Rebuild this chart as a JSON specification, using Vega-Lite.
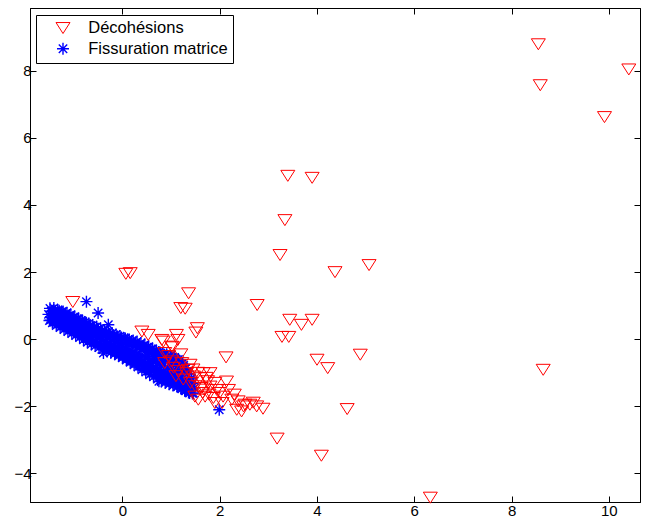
{
"$schema":"https://vega.github.io/schema/vega-lite/v6.json",
"width":610,"height":494,"autosize":{"type":"none"},
"padding":{"left":30,"top":8,"right":6,"bottom":22},
"background":"white",
"config":{"view":{"stroke":"black","strokeWidth":1},
"axis":{"grid":false,"domainColor":"black","tickColor":"black","labelColor":"black","labelFont":"Liberation Sans","labelFontSize":15,"tickSize":-6,"labelPadding":5,"domainWidth":1,"tickWidth":1,"title":null},
"legend":{"orient":"none","legendX":6,"legendY":7,"strokeColor":"black","fillColor":"white","padding":4.75,"labelFont":"Liberation Sans","labelFontSize":16.5,"labelColor":"black","symbolStrokeWidth":1,"symbolSize":196,"rowPadding":2.8,"labelOffset":17,"symbolOffset":14,"title":null}},
"data":{"values":[
{"x":-1.50,"y":0.56,"t":"F"},{"x":-1.47,"y":0.65,"t":"F"},{"x":-1.52,"y":0.74,"t":"F"},{"x":-1.46,"y":0.83,"t":"F"},{"x":-1.49,"y":0.92,"t":"F"},
{"x":-1.42,"y":0.57,"t":"F"},{"x":-1.39,"y":0.66,"t":"F"},{"x":-1.44,"y":0.75,"t":"F"},{"x":-1.38,"y":0.84,"t":"F"},{"x":-1.41,"y":0.93,"t":"F"},
{"x":-1.34,"y":0.51,"t":"F"},{"x":-1.31,"y":0.60,"t":"F"},{"x":-1.36,"y":0.69,"t":"F"},{"x":-1.30,"y":0.78,"t":"F"},{"x":-1.33,"y":0.87,"t":"F"},
{"x":-1.26,"y":0.46,"t":"F"},{"x":-1.23,"y":0.55,"t":"F"},{"x":-1.28,"y":0.64,"t":"F"},{"x":-1.22,"y":0.73,"t":"F"},{"x":-1.25,"y":0.82,"t":"F"},
{"x":-1.18,"y":0.40,"t":"F"},{"x":-1.15,"y":0.49,"t":"F"},{"x":-1.20,"y":0.58,"t":"F"},{"x":-1.14,"y":0.67,"t":"F"},{"x":-1.17,"y":0.76,"t":"F"},
{"x":-1.10,"y":0.35,"t":"F"},{"x":-1.07,"y":0.44,"t":"F"},{"x":-1.12,"y":0.53,"t":"F"},{"x":-1.06,"y":0.62,"t":"F"},{"x":-1.09,"y":0.71,"t":"F"},
{"x":-1.02,"y":0.29,"t":"F"},{"x":-0.99,"y":0.38,"t":"F"},{"x":-1.04,"y":0.47,"t":"F"},{"x":-0.98,"y":0.56,"t":"F"},{"x":-1.01,"y":0.65,"t":"F"},
{"x":-0.94,"y":0.23,"t":"F"},{"x":-0.91,"y":0.33,"t":"F"},{"x":-0.96,"y":0.42,"t":"F"},{"x":-0.90,"y":0.51,"t":"F"},{"x":-0.93,"y":0.61,"t":"F"},
{"x":-0.86,"y":0.16,"t":"F"},{"x":-0.83,"y":0.26,"t":"F"},{"x":-0.88,"y":0.36,"t":"F"},{"x":-0.82,"y":0.46,"t":"F"},{"x":-0.85,"y":0.56,"t":"F"},
{"x":-0.78,"y":0.11,"t":"F"},{"x":-0.75,"y":0.21,"t":"F"},{"x":-0.80,"y":0.31,"t":"F"},{"x":-0.74,"y":0.41,"t":"F"},{"x":-0.77,"y":0.51,"t":"F"},
{"x":-0.70,"y":0.05,"t":"F"},{"x":-0.67,"y":0.16,"t":"F"},{"x":-0.72,"y":0.26,"t":"F"},{"x":-0.66,"y":0.36,"t":"F"},{"x":-0.69,"y":0.47,"t":"F"},
{"x":-0.62,"y":-0.02,"t":"F"},{"x":-0.59,"y":0.09,"t":"F"},{"x":-0.64,"y":0.20,"t":"F"},{"x":-0.58,"y":0.31,"t":"F"},{"x":-0.61,"y":0.42,"t":"F"},
{"x":-0.54,"y":-0.07,"t":"F"},{"x":-0.51,"y":0.04,"t":"F"},{"x":-0.56,"y":0.15,"t":"F"},{"x":-0.50,"y":0.26,"t":"F"},{"x":-0.53,"y":0.37,"t":"F"},
{"x":-0.46,"y":-0.14,"t":"F"},{"x":-0.43,"y":-0.02,"t":"F"},{"x":-0.48,"y":0.09,"t":"F"},{"x":-0.42,"y":0.20,"t":"F"},{"x":-0.45,"y":0.32,"t":"F"},
{"x":-0.38,"y":-0.19,"t":"F"},{"x":-0.35,"y":-0.08,"t":"F"},{"x":-0.40,"y":0.04,"t":"F"},{"x":-0.34,"y":0.16,"t":"F"},{"x":-0.37,"y":0.27,"t":"F"},
{"x":-0.30,"y":-0.26,"t":"F"},{"x":-0.27,"y":-0.14,"t":"F"},{"x":-0.32,"y":-0.02,"t":"F"},{"x":-0.26,"y":0.10,"t":"F"},{"x":-0.29,"y":0.22,"t":"F"},
{"x":-0.22,"y":-0.32,"t":"F"},{"x":-0.19,"y":-0.20,"t":"F"},{"x":-0.24,"y":-0.07,"t":"F"},{"x":-0.18,"y":0.06,"t":"F"},{"x":-0.21,"y":0.18,"t":"F"},
{"x":-0.14,"y":-0.38,"t":"F"},{"x":-0.11,"y":-0.25,"t":"F"},{"x":-0.16,"y":-0.12,"t":"F"},{"x":-0.10,"y":0.01,"t":"F"},{"x":-0.13,"y":0.14,"t":"F"},
{"x":-0.06,"y":-0.45,"t":"F"},{"x":-0.03,"y":-0.32,"t":"F"},{"x":-0.08,"y":-0.18,"t":"F"},{"x":-0.02,"y":-0.05,"t":"F"},{"x":-0.05,"y":0.09,"t":"F"},
{"x":0.02,"y":-0.50,"t":"F"},{"x":0.05,"y":-0.37,"t":"F"},{"x":0.00,"y":-0.23,"t":"F"},{"x":0.06,"y":-0.10,"t":"F"},{"x":0.03,"y":0.04,"t":"F"},
{"x":0.10,"y":-0.57,"t":"F"},{"x":0.13,"y":-0.43,"t":"F"},{"x":0.08,"y":-0.29,"t":"F"},{"x":0.14,"y":-0.15,"t":"F"},{"x":0.11,"y":-0.01,"t":"F"},
{"x":0.18,"y":-0.63,"t":"F"},{"x":0.21,"y":-0.48,"t":"F"},{"x":0.16,"y":-0.34,"t":"F"},{"x":0.22,"y":-0.20,"t":"F"},{"x":0.19,"y":-0.05,"t":"F"},
{"x":0.26,"y":-0.70,"t":"F"},{"x":0.29,"y":-0.55,"t":"F"},{"x":0.24,"y":-0.40,"t":"F"},{"x":0.30,"y":-0.25,"t":"F"},{"x":0.27,"y":-0.10,"t":"F"},
{"x":0.34,"y":-0.75,"t":"F"},{"x":0.37,"y":-0.60,"t":"F"},{"x":0.32,"y":-0.45,"t":"F"},{"x":0.38,"y":-0.30,"t":"F"},{"x":0.35,"y":-0.15,"t":"F"},
{"x":0.42,"y":-0.82,"t":"F"},{"x":0.45,"y":-0.66,"t":"F"},{"x":0.40,"y":-0.51,"t":"F"},{"x":0.46,"y":-0.36,"t":"F"},{"x":0.43,"y":-0.20,"t":"F"},
{"x":0.50,"y":-0.88,"t":"F"},{"x":0.53,"y":-0.72,"t":"F"},{"x":0.48,"y":-0.56,"t":"F"},{"x":0.54,"y":-0.40,"t":"F"},{"x":0.51,"y":-0.24,"t":"F"},
{"x":0.58,"y":-0.93,"t":"F"},{"x":0.61,"y":-0.77,"t":"F"},{"x":0.56,"y":-0.61,"t":"F"},{"x":0.62,"y":-0.45,"t":"F"},{"x":0.59,"y":-0.29,"t":"F"},
{"x":0.66,"y":-1.00,"t":"F"},{"x":0.69,"y":-0.84,"t":"F"},{"x":0.64,"y":-0.67,"t":"F"},{"x":0.70,"y":-0.50,"t":"F"},{"x":0.67,"y":-0.34,"t":"F"},
{"x":0.74,"y":-1.06,"t":"F"},{"x":0.77,"y":-0.89,"t":"F"},{"x":0.72,"y":-0.72,"t":"F"},{"x":0.78,"y":-0.55,"t":"F"},{"x":0.75,"y":-0.38,"t":"F"},
{"x":0.82,"y":-1.14,"t":"F"},{"x":0.85,"y":-0.96,"t":"F"},{"x":0.80,"y":-0.78,"t":"F"},{"x":0.86,"y":-0.60,"t":"F"},{"x":0.83,"y":-0.42,"t":"F"},
{"x":0.90,"y":-1.21,"t":"F"},{"x":0.93,"y":-1.02,"t":"F"},{"x":0.88,"y":-0.83,"t":"F"},{"x":0.94,"y":-0.64,"t":"F"},{"x":0.91,"y":-0.45,"t":"F"},
{"x":0.98,"y":-1.29,"t":"F"},{"x":1.01,"y":-1.09,"t":"F"},{"x":0.96,"y":-0.89,"t":"F"},{"x":1.02,"y":-0.69,"t":"F"},{"x":0.99,"y":-0.49,"t":"F"},
{"x":1.06,"y":-1.35,"t":"F"},{"x":1.09,"y":-1.14,"t":"F"},{"x":1.04,"y":-0.94,"t":"F"},{"x":1.10,"y":-0.74,"t":"F"},{"x":1.07,"y":-0.54,"t":"F"},
{"x":1.14,"y":-1.41,"t":"F"},{"x":1.17,"y":-1.20,"t":"F"},{"x":1.12,"y":-1.00,"t":"F"},{"x":1.18,"y":-0.80,"t":"F"},{"x":1.15,"y":-0.60,"t":"F"},
{"x":1.22,"y":-1.48,"t":"F"},{"x":1.25,"y":-1.29,"t":"F"},{"x":1.20,"y":-1.10,"t":"F"},{"x":1.26,"y":-0.91,"t":"F"},{"x":1.23,"y":-0.72,"t":"F"},
{"x":1.30,"y":-1.54,"t":"F"},{"x":1.33,"y":-1.37,"t":"F"},{"x":1.28,"y":-1.20,"t":"F"},{"x":1.34,"y":-1.03,"t":"F"},{"x":1.31,"y":-0.86,"t":"F"},
{"x":1.38,"y":-1.60,"t":"F"},{"x":1.41,"y":-1.45,"t":"F"},{"x":1.36,"y":-1.30,"t":"F"},{"x":1.42,"y":-1.15,"t":"F"},
{"x":1.46,"y":-1.60,"t":"F"},{"x":1.48,"y":-1.45,"t":"F"},{"x":1.44,"y":-1.32,"t":"F"},
{"x":0.54,"y":-0.82,"t":"F"},{"x":0.55,"y":-0.67,"t":"F"},{"x":0.53,"y":-0.51,"t":"F"},{"x":0.56,"y":-0.36,"t":"F"},
{"x":0.70,"y":-0.95,"t":"F"},{"x":0.71,"y":-0.78,"t":"F"},{"x":0.69,"y":-0.62,"t":"F"},{"x":0.72,"y":-0.45,"t":"F"},
{"x":0.86,"y":-1.08,"t":"F"},{"x":0.87,"y":-0.89,"t":"F"},{"x":0.85,"y":-0.71,"t":"F"},{"x":0.88,"y":-0.53,"t":"F"},
{"x":1.02,"y":-1.21,"t":"F"},{"x":1.03,"y":-1.01,"t":"F"},{"x":1.01,"y":-0.81,"t":"F"},{"x":1.04,"y":-0.61,"t":"F"},
{"x":1.18,"y":-1.34,"t":"F"},{"x":1.19,"y":-1.15,"t":"F"},{"x":1.17,"y":-0.95,"t":"F"},{"x":1.20,"y":-0.76,"t":"F"},
{"x":-1.46,"y":0.83,"t":"F"},{"x":-1.44,"y":0.49,"t":"F"},{"x":-1.48,"y":0.57,"t":"F"},
{"x":-1.38,"y":0.85,"t":"F"},{"x":-1.36,"y":0.41,"t":"F"},{"x":-1.40,"y":0.51,"t":"F"},
{"x":-1.30,"y":0.85,"t":"F"},{"x":-1.28,"y":0.35,"t":"F"},{"x":-1.32,"y":0.46,"t":"F"},
{"x":-1.22,"y":0.83,"t":"F"},{"x":-1.20,"y":0.29,"t":"F"},{"x":-1.24,"y":0.41,"t":"F"},
{"x":-1.14,"y":0.79,"t":"F"},{"x":-1.12,"y":0.23,"t":"F"},{"x":-1.16,"y":0.36,"t":"F"},
{"x":-1.06,"y":0.73,"t":"F"},{"x":-1.04,"y":0.17,"t":"F"},{"x":-1.08,"y":0.30,"t":"F"},
{"x":-0.98,"y":0.67,"t":"F"},{"x":-0.96,"y":0.11,"t":"F"},{"x":-1.00,"y":0.24,"t":"F"},
{"x":-0.90,"y":0.61,"t":"F"},{"x":-0.88,"y":0.05,"t":"F"},{"x":-0.92,"y":0.18,"t":"F"},
{"x":-0.82,"y":0.54,"t":"F"},{"x":-0.80,"y":-0.02,"t":"F"},{"x":-0.84,"y":0.11,"t":"F"},
{"x":-0.74,"y":0.47,"t":"F"},{"x":-0.72,"y":-0.09,"t":"F"},{"x":-0.76,"y":0.04,"t":"F"},
{"x":-0.66,"y":0.41,"t":"F"},{"x":-0.64,"y":-0.15,"t":"F"},{"x":-0.68,"y":-0.02,"t":"F"},
{"x":-0.58,"y":0.36,"t":"F"},{"x":-0.56,"y":-0.20,"t":"F"},{"x":-0.60,"y":-0.07,"t":"F"},
{"x":-0.50,"y":0.31,"t":"F"},{"x":-0.48,"y":-0.25,"t":"F"},{"x":-0.52,"y":-0.12,"t":"F"},
{"x":-0.42,"y":0.25,"t":"F"},{"x":-0.40,"y":-0.31,"t":"F"},{"x":-0.44,"y":-0.18,"t":"F"},
{"x":-0.34,"y":0.20,"t":"F"},{"x":-0.32,"y":-0.36,"t":"F"},{"x":-0.36,"y":-0.23,"t":"F"},
{"x":-0.26,"y":0.16,"t":"F"},{"x":-0.24,"y":-0.40,"t":"F"},{"x":-0.28,"y":-0.27,"t":"F"},
{"x":-0.18,"y":0.12,"t":"F"},{"x":-0.16,"y":-0.44,"t":"F"},{"x":-0.20,"y":-0.31,"t":"F"},
{"x":-0.10,"y":0.08,"t":"F"},{"x":-0.08,"y":-0.50,"t":"F"},{"x":-0.12,"y":-0.37,"t":"F"},
{"x":-0.02,"y":0.05,"t":"F"},{"x":0.00,"y":-0.55,"t":"F"},{"x":-0.04,"y":-0.42,"t":"F"},
{"x":0.06,"y":0.02,"t":"F"},{"x":0.08,"y":-0.62,"t":"F"},{"x":0.04,"y":-0.48,"t":"F"},
{"x":0.14,"y":-0.01,"t":"F"},{"x":0.16,"y":-0.69,"t":"F"},{"x":0.12,"y":-0.54,"t":"F"},
{"x":0.22,"y":-0.04,"t":"F"},{"x":0.24,"y":-0.76,"t":"F"},{"x":0.20,"y":-0.60,"t":"F"},
{"x":0.30,"y":-0.07,"t":"F"},{"x":0.32,"y":-0.83,"t":"F"},{"x":0.28,"y":-0.66,"t":"F"},
{"x":0.38,"y":-0.11,"t":"F"},{"x":0.40,"y":-0.91,"t":"F"},{"x":0.36,"y":-0.73,"t":"F"},
{"x":0.46,"y":-0.16,"t":"F"},{"x":0.48,"y":-0.98,"t":"F"},{"x":0.44,"y":-0.80,"t":"F"},
{"x":0.54,"y":-0.22,"t":"F"},{"x":0.56,"y":-1.06,"t":"F"},{"x":0.52,"y":-0.87,"t":"F"},
{"x":0.62,"y":-0.28,"t":"F"},{"x":0.64,"y":-1.12,"t":"F"},{"x":0.60,"y":-0.93,"t":"F"},
{"x":0.70,"y":-0.35,"t":"F"},{"x":0.72,"y":-1.19,"t":"F"},{"x":0.68,"y":-1.00,"t":"F"},
{"x":0.78,"y":-0.42,"t":"F"},{"x":0.80,"y":-1.26,"t":"F"},{"x":0.76,"y":-1.07,"t":"F"},
{"x":0.86,"y":-0.46,"t":"F"},{"x":0.88,"y":-1.30,"t":"F"},{"x":0.84,"y":-1.11,"t":"F"},
{"x":0.94,"y":-0.50,"t":"F"},{"x":0.96,"y":-1.34,"t":"F"},{"x":0.92,"y":-1.15,"t":"F"},
{"x":1.02,"y":-0.54,"t":"F"},{"x":1.04,"y":-1.38,"t":"F"},{"x":1.00,"y":-1.19,"t":"F"},
{"x":1.10,"y":-0.59,"t":"F"},{"x":1.12,"y":-1.41,"t":"F"},{"x":1.08,"y":-1.23,"t":"F"},
{"x":1.18,"y":-0.65,"t":"F"},{"x":1.20,"y":-1.45,"t":"F"},{"x":1.16,"y":-1.27,"t":"F"},
{"x":1.26,"y":-0.78,"t":"F"},{"x":1.28,"y":-1.52,"t":"F"},{"x":1.24,"y":-1.35,"t":"F"},
{"x":1.34,"y":-0.95,"t":"F"},{"x":1.36,"y":-1.59,"t":"F"},{"x":1.32,"y":-1.45,"t":"F"},
{"x":1.42,"y":-1.18,"t":"F"},{"x":1.44,"y":-1.62,"t":"F"},{"x":1.40,"y":-1.52,"t":"F"},
{"x":-0.74,"y":1.12,"t":"F"},{"x":-0.50,"y":0.78,"t":"F"},{"x":-0.29,"y":0.43,"t":"F"},{"x":-0.39,"y":-0.41,"t":"F"},{"x":1.11,"y":-0.86,"t":"F"},{"x":1.99,"y":-2.10,"t":"F"},{"x":0.75,"y":-1.25,"t":"F"},
{"x":8.55,"y":8.79,"t":"D"},{"x":10.41,"y":8.04,"t":"D"},{"x":8.59,"y":7.57,"t":"D"},{"x":9.91,"y":6.62,"t":"D"},{"x":8.65,"y":-0.91,"t":"D"},{"x":6.33,"y":-4.72,"t":"D"},
{"x":3.40,"y":4.87,"t":"D"},{"x":3.90,"y":4.81,"t":"D"},{"x":3.34,"y":3.55,"t":"D"},{"x":3.24,"y":2.51,"t":"D"},{"x":4.37,"y":2.0,"t":"D"},{"x":5.07,"y":2.21,"t":"D"},{"x":2.77,"y":1.02,"t":"D"},{"x":3.44,"y":0.58,"t":"D"},{"x":3.68,"y":0.43,"t":"D"},{"x":3.90,"y":0.58,"t":"D"},{"x":3.28,"y":0.07,"t":"D"},{"x":3.42,"y":0.07,"t":"D"},{"x":4.00,"y":-0.61,"t":"D"},{"x":4.22,"y":-0.86,"t":"D"},{"x":4.89,"y":-0.46,"t":"D"},{"x":4.62,"y":-2.08,"t":"D"},{"x":3.18,"y":-2.96,"t":"D"},{"x":4.09,"y":-3.47,"t":"D"},
{"x":2.89,"y":-2.07,"t":"D"},{"x":2.69,"y":-1.89,"t":"D"},{"x":2.52,"y":-1.95,"t":"D"},
{"x":1.36,"y":1.37,"t":"D"},{"x":1.20,"y":0.93,"t":"D"},{"x":1.29,"y":0.91,"t":"D"},{"x":0.07,"y":1.95,"t":"D"},{"x":0.16,"y":1.97,"t":"D"},{"x":-1.02,"y":1.11,"t":"D"},{"x":0.40,"y":0.23,"t":"D"},{"x":0.53,"y":0.13,"t":"D"},
{"x":1.54,"y":0.33,"t":"D"},{"x":1.51,"y":0.20,"t":"D"},{"x":1.11,"y":0.13,"t":"D"},{"x":1.14,"y":-0.02,"t":"D"},{"x":1.03,"y":-0.24,"t":"D"},{"x":2.13,"y":-0.54,"t":"D"},{"x":0.84,"y":-0.07,"t":"D"},
{"x":0.81,"y":-0.02,"t":"D"},{"x":1.01,"y":-0.22,"t":"D"},{"x":0.87,"y":-0.41,"t":"D"},{"x":0.87,"y":-0.71,"t":"D"},{"x":1.01,"y":-0.66,"t":"D"},{"x":1.22,"y":-0.71,"t":"D"},{"x":1.39,"y":-0.76,"t":"D"},{"x":1.66,"y":-1.01,"t":"D"},{"x":1.46,"y":-1.11,"t":"D"},{"x":1.59,"y":-1.16,"t":"D"},{"x":1.32,"y":-1.01,"t":"D"},{"x":1.80,"y":-1.41,"t":"D"},{"x":1.94,"y":-1.51,"t":"D"},{"x":1.70,"y":-1.71,"t":"D"},{"x":2.14,"y":-1.26,"t":"D"},{"x":2.18,"y":-1.51,"t":"D"},{"x":2.07,"y":-1.71,"t":"D"},{"x":2.25,"y":-1.80,"t":"D"},{"x":2.38,"y":-1.85,"t":"D"},{"x":2.49,"y":-2.00,"t":"D"},{"x":2.62,"y":-1.95,"t":"D"},{"x":2.76,"y":-2.00,"t":"D"},{"x":2.35,"y":-2.10,"t":"D"},{"x":2.45,"y":-2.15,"t":"D"},{"x":1.49,"y":-1.71,"t":"D"},{"x":1.56,"y":-1.80,"t":"D"},{"x":1.35,"y":-0.91,"t":"D"},{"x":1.80,"y":-1.01,"t":"D"},{"x":1.68,"y":-1.50,"t":"D"},{"x":1.87,"y":-1.75,"t":"D"},
{"x":1.05,"y":-0.85,"t":"D"},{"x":1.15,"y":-0.95,"t":"D"},{"x":1.25,"y":-1.2,"t":"D"},{"x":1.4,"y":-1.3,"t":"D"},{"x":1.5,"y":-1.4,"t":"D"},{"x":1.62,"y":-1.45,"t":"D"},{"x":1.75,"y":-1.25,"t":"D"},{"x":1.9,"y":-1.3,"t":"D"},{"x":2.0,"y":-1.6,"t":"D"},{"x":1.65,"y":-1.6,"t":"D"},{"x":1.2,"y":-0.45,"t":"D"},{"x":0.95,"y":-0.5,"t":"D"},{"x":1.1,"y":-1.1,"t":"D"},{"x":1.45,"y":-0.9,"t":"D"},{"x":1.55,"y":-1.0,"t":"D"},{"x":1.72,"y":-1.15,"t":"D"},{"x":2.3,"y":-1.65,"t":"D"},{"x":2.05,"y":-1.9,"t":"D"},{"x":1.9,"y":-1.9,"t":"D"},{"x":1.78,"y":-1.65,"t":"D"}
]},
"layer":[
{"mark":{"type":"point","filled":false,"opacity":1},
"encoding":{
"x":{"field":"x","type":"quantitative","scale":{"domain":[-1.9,10.64],"nice":false,"zero":false},"axis":{"orient":"bottom","values":[0,2,4,6,8,10],"labelPadding":7}},
"y":{"field":"y","type":"quantitative","scale":{"domain":[-4.85,9.87],"nice":false,"zero":false},"axis":{"orient":"left","values":[-4,-2,0,2,4,6,8]}},
"color":{"field":"t","type":"nominal","scale":{"domain":["D","F"],"range":["#ff0000","#0000ff"]},"legend":{"labelExpr":"datum.label == 'D' ? 'Décohésions' : 'Fissuration matrice'"}},
"shape":{"field":"t","type":"nominal","scale":{"domain":["D","F"],"range":["M-1,-0.78L1,-0.78L0,0.79Z","M-1,0L1,0M0,-1L0,1M-0.7,-0.7L0.7,0.7M-0.7,0.7L0.7,-0.7"]},"legend":{"labelExpr":"datum.label == 'D' ? 'Décohésions' : 'Fissuration matrice'"}},
"size":{"field":"t","type":"nominal","scale":{"domain":["D","F"],"range":[196,144]},"legend":null},
"strokeWidth":{"field":"t","type":"nominal","scale":{"domain":["D","F"],"range":[1,1.4]},"legend":null}
}},
{"mark":{"type":"point","opacity":0},
"encoding":{
"x":{"field":"x","type":"quantitative","scale":{"domain":[-1.9,10.64],"nice":false,"zero":false},"axis":{"orient":"top","values":[0,2,4,6,8,10],"labels":false}},
"y":{"field":"y","type":"quantitative","scale":{"domain":[-4.85,9.87],"nice":false,"zero":false},"axis":{"orient":"right","values":[-4,-2,0,2,4,6,8],"labels":false}}
}}
],
"resolve":{"axis":{"x":"independent","y":"independent"}}
}
